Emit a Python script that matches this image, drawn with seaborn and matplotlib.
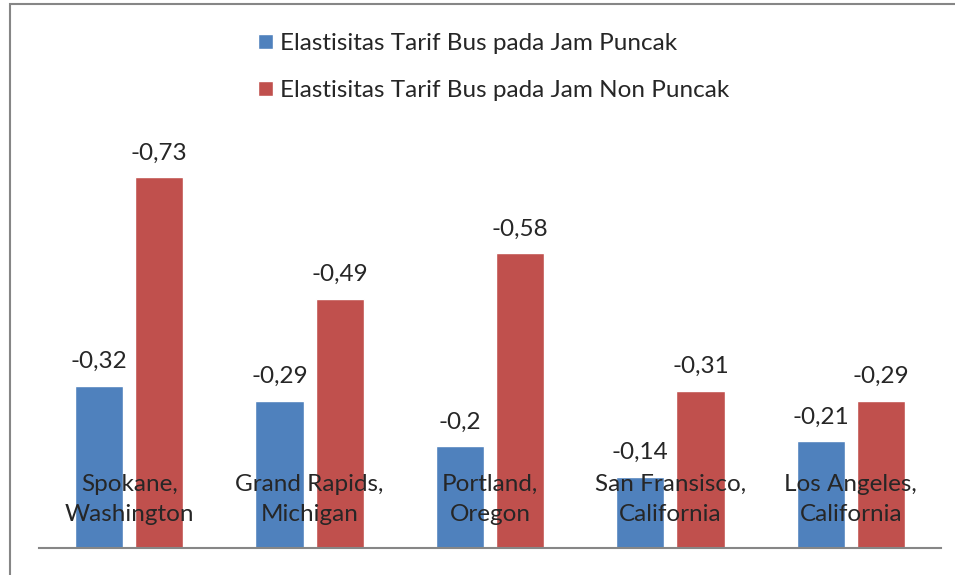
import pandas as pd
import matplotlib.pyplot as plt
import seaborn as sns
from matplotlib.patches import Rectangle

# data
kota = ["Spokane,\nWashington", "Grand Rapids,\nMichigan", "Portland,\nOregon",
        "San Fransisco,\nCalifornia", "Los Angeles,\nCalifornia"]
seri = ["Elastisitas Tarif Bus pada Jam Puncak",
        "Elastisitas Tarif Bus pada Jam Non Puncak"]
puncak = [-0.32, -0.29, -0.2, -0.14, -0.21]
non_puncak = [-0.73, -0.49, -0.58, -0.31, -0.29]

df = pd.DataFrame({
    "Kota": kota * 2,
    "Seri": [seri[0]] * len(kota) + [seri[1]] * len(kota),
    "Elastisitas": puncak + non_puncak,
})
df["Besar"] = df["Elastisitas"].abs()

sns.set_style("white")
plt.rcParams["font.family"] = ["Lato", "DejaVu Sans"]
fs = 17.5

fig = plt.figure(figsize=(9.55, 5.75), dpi=100)
ax = fig.add_axes([39 / 955, 27 / 575, 902 / 955, 457 / 575])

sns.barplot(data=df, x="Kota", y="Besar", hue="Seri", order=kota, hue_order=seri,
            palette=["#4F81BD", "#C0504D"], width=0.667, gap=0.2,
            saturation=1, ax=ax, legend=True)

ax.set_ylim(0, 0.9)
ax.set_xlim(-0.5, 4.5)

# value labels, shown with the original negative sign and comma decimal
for cont, vals in zip(ax.containers, [puncak, non_puncak]):
    labels = [("%g" % v).replace(".", ",") for v in vals]
    ax.bar_label(cont, labels=labels, padding=10, fontsize=fs)

# category names sit inside the plot above the axis line
ax.set_xticks([])
for i, k in enumerate(kota):
    ax.annotate(k, (i, 0), xytext=(0, 35), textcoords="offset points",
                ha="center", va="center", fontsize=fs, linespacing=1.55)

ax.set_xlabel("")
ax.set_ylabel("")
ax.set_yticks([])
for s in ["top", "right", "left"]:
    ax.spines[s].set_visible(False)
ax.spines["bottom"].set_color("#868686")
ax.spines["bottom"].set_linewidth(1.5)

leg = ax.legend(loc="upper left", bbox_to_anchor=(258 / 955, 1 - 33 / 575),
                bbox_transform=fig.transFigure, frameon=False, fontsize=fs,
                handlelength=0.6, handleheight=0.6, handletextpad=0.3,
                labelspacing=1.08, borderpad=0, borderaxespad=0)

# outer chart frame
fig.add_artist(Rectangle((9.5 / 955, -0.1), 2, 1.1 - 3.5 / 575,
                         transform=fig.transFigure, fill=False,
                         edgecolor="#868686", linewidth=1.5))

fig.savefig("out.png", dpi=100)
